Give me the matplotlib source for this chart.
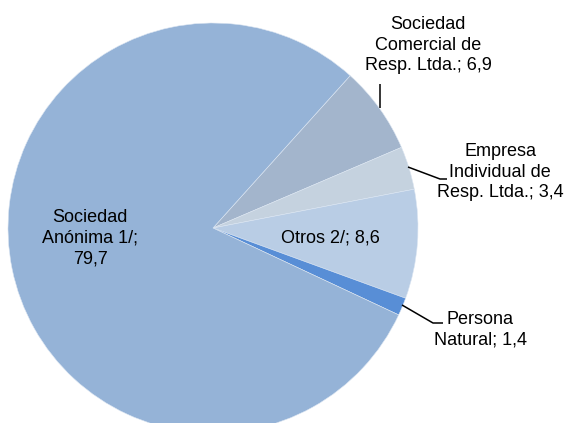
import matplotlib
matplotlib.use("Agg")
import matplotlib.pyplot as plt

# data, clockwise from the top-right edge of "Sociedad Anónima"
labels = ["Sociedad\nComercial de\nResp. Ltda.; 6,9",
          "Empresa\nIndividual de\nResp. Ltda.; 3,4",
          "Otros 2/; 8,6",
          "Persona\nNatural; 1,4",
          "Sociedad\nAnónima 1/;\n79,7"]
values = [6.9, 3.4, 8.6, 1.4, 79.7]
colors = ["#A3B5CC", "#C5D2DF", "#B9CDE5", "#588ED6", "#95B3D7"]

plt.rcParams["font.family"] = ["Liberation Sans", "DejaVu Sans"]

W, H = 564, 423
fig = plt.figure(figsize=(W / 100, H / 100), dpi=100)
ax = fig.add_axes([0, 0, 1, 1])

cx, cy, r = 213, H - 228, 205
ax.pie(values, colors=colors, startangle=48, counterclock=False,
       center=(cx, cy), radius=r, frame=True,
       wedgeprops=dict(edgecolor="#DCE6F2", linewidth=0.4))
ax.set_xlim(0, W)
ax.set_ylim(0, H)
ax.set_aspect("equal")
ax.axis("off")

fs = 13
ls = 1.3
# label positions (pixels from top-left)
pos = [(428, 45), (500, 172), (330, 238), (480, 330), (90, 238)]
for lab, (x, y) in zip(labels, pos):
    ax.text(x, H - y, lab, ha="center", va="center", fontsize=fs,
            linespacing=ls, color="black")

# leader lines
leaders = [
    [(380, 84), (380, 108)],
    [(408, 167), (440, 179), (447, 179)],
    [(402, 305), (433, 323), (443, 323)],
]
for pts in leaders:
    xs = [p[0] for p in pts]
    ys = [H - p[1] for p in pts]
    ax.plot(xs, ys, color="black", linewidth=1.1, solid_capstyle="butt")

fig.savefig("out.png", dpi=100)
